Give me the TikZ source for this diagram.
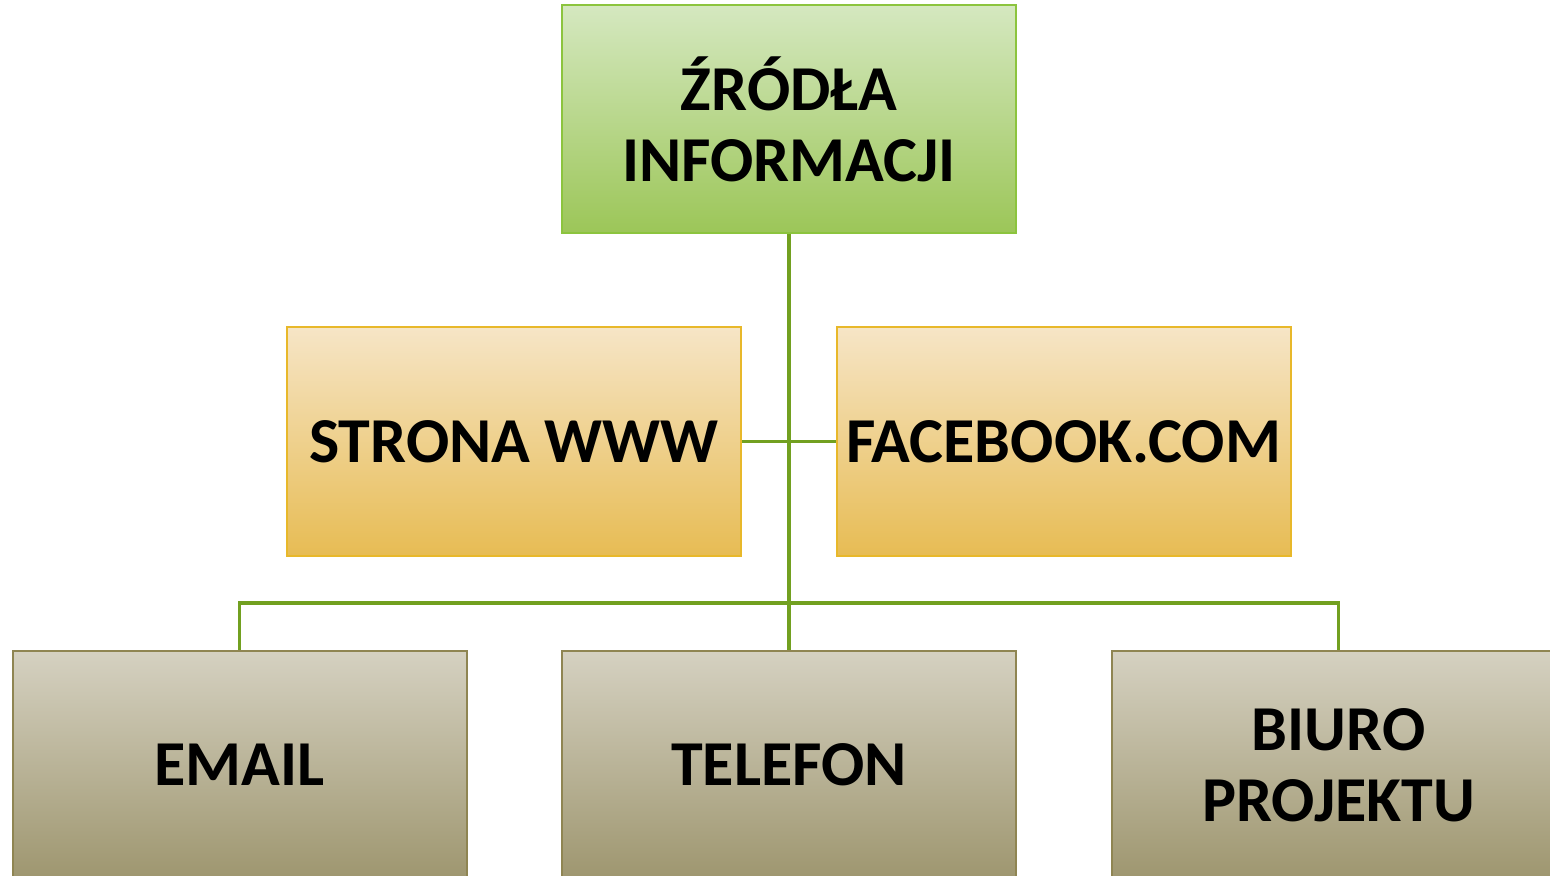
\documentclass[tikz,border=0pt]{standalone}
\usepackage{fontspec}
\setmainfont{Carlito}
\definecolor{gtop}{HTML}{D5E8C0}
\definecolor{gbot}{HTML}{9CC658}
\definecolor{gline}{HTML}{8CC43E}
\definecolor{otop}{HTML}{F6E5C6}
\definecolor{obot}{HTML}{E7BC54}
\definecolor{oline}{HTML}{E8B82A}
\definecolor{ktop}{HTML}{D5D1C1}
\definecolor{kbot}{HTML}{9E966F}
\definecolor{kline}{HTML}{8F8552}
\definecolor{conn}{HTML}{72A020}
\tikzset{
  box/.style={rectangle, minimum width=227pt, minimum height=114pt, line width=1pt,
    inner sep=0pt, align=center, font=\fontsize{32}{35.5}\selectfont\bfseries, text=black},
  twoline/.style={text depth=0pt},
  greenbox/.style={box, draw=gline, top color=gtop, bottom color=gbot},
  orangebox/.style={box, draw=oline, top color=otop, bottom color=obot},
  olivebox/.style={box, draw=kline, top color=ktop, bottom color=kbot},
  link/.style={draw=conn, line width=1.6pt}
}
\begin{document}
\begin{tikzpicture}[x=0.5pt, y=-0.5pt]
\useasboundingbox (0,0) rectangle (1550,876);
\clip (0,0) rectangle (1550,876);
\node[greenbox, twoline] (top) at (789,119) {ŹRÓDŁA\\INFORMACJI};
\node[orangebox] (www) at (514,441.5) {STRONA WWW};
\node[orangebox] (fb) at (1063.5,441.5) {FACEBOOK.COM};
\node[olivebox] (email) at (239.5,765) {EMAIL};
\node[olivebox] (tel) at (789,765) {TELEFON};
\node[olivebox, twoline] (biuro) at (1338.5,765) {BIURO\\PROJEKTU};
\coordinate (bus) at (789,603);
\draw[link] (top.south) -- (tel.north);
\draw[link] (www.east) -- (fb.west);
\draw[link] (email.north) |- (bus) -| (biuro.north);
\end{tikzpicture}
\end{document}
